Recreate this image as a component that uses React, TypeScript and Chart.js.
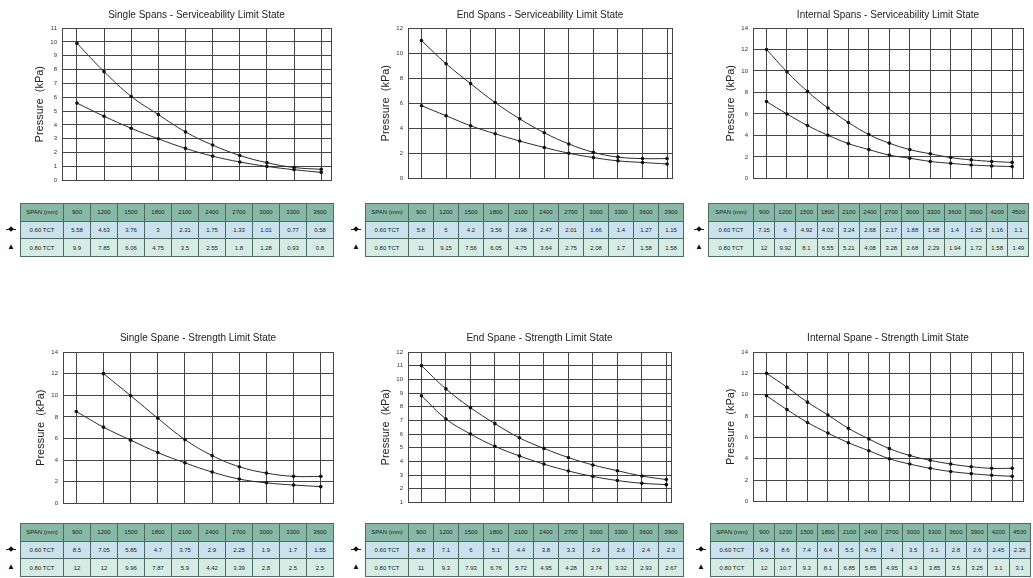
import React, { useEffect, useRef } from "react";
import { Chart, registerables } from "chart.js";

Chart.register(...registerables);

const FONT = "'Liberation Sans', Arial, Helvetica, sans-serif";
Chart.defaults.font.family = FONT;

// ---- Data ----
const spansShort = [900, 1200, 1500, 1800, 2100, 2400, 2700, 3000, 3300, 3600];
const spansMid = [900, 1200, 1500, 1800, 2100, 2400, 2700, 3000, 3300, 3600, 3900];
const spansLong = [900, 1200, 1500, 1800, 2100, 2400, 2700, 3000, 3300, 3600, 3900, 4200, 4500];

const rowLabels = ["0.60  TCT", "0.80  TCT"];
const spanHeader = "SPAN (mm)";
const yAxisLabel = "Pressure  (kPa)";

const singleServLow = [5.58, 4.63, 3.76, 3, 2.31, 1.75, 1.33, 1.01, 0.77, 0.58];
const singleServHigh = [9.9, 7.85, 6.06, 4.75, 3.5, 2.55, 1.8, 1.28, 0.93, 0.8];

const endServLow = [5.8, 5, 4.2, 3.56, 2.98, 2.47, 2.01, 1.66, 1.4, 1.27, 1.15];
const endServHigh = [11, 9.15, 7.56, 6.05, 4.75, 3.64, 2.75, 2.08, 1.7, 1.58, 1.58];

const intServLow = [7.15, 6, 4.92, 4.02, 3.24, 2.68, 2.17, 1.88, 1.58, 1.4, 1.25, 1.16, 1.1];
const intServHigh = [12, 9.92, 8.1, 6.55, 5.21, 4.08, 3.28, 2.68, 2.29, 1.94, 1.72, 1.58, 1.49];

const singleStrLow = [8.5, 7.05, 5.85, 4.7, 3.75, 2.9, 2.25, 1.9, 1.7, 1.55];
const singleStrHigh = [12, 12, 9.96, 7.87, 5.9, 4.42, 3.39, 2.8, 2.5, 2.5];

const endStrLow = [8.8, 7.1, 6, 5.1, 4.4, 3.8, 3.3, 2.9, 2.6, 2.4, 2.3];
const endStrHigh = [11, 9.3, 7.93, 6.76, 5.72, 4.95, 4.28, 3.74, 3.32, 2.93, 2.67];

const intStrLow = [9.9, 8.6, 7.4, 6.4, 5.5, 4.75, 4, 3.5, 3.1, 2.8, 2.6, 2.45, 2.35];
const intStrHigh = [12, 10.7, 9.3, 8.1, 6.85, 5.85, 4.95, 4.3, 3.85, 3.5, 3.25, 3.1, 3.1];

// ---- Layout / style ----
const AXIS_W = 62;
const TITLE_H = 28;
const GRID = "#454545";
const LINE = "#2a2a2a";

type Panel = {
  title: string;
  spans: number[];
  low: number[];
  high: number[];
  highSkip: number;
  yMin: number;
  yMax: number;
  yStep: number;
  plot: { l: number; t: number; r: number; b: number };
  pad: [number, number];
  titleTop: number;
  table: { left: number; top: number; first: number; cell: number; height: number };
};

const panels: Panel[] = [
  {
    title: "Single Spans - Serviceability Limit State",
    spans: spansShort, low: singleServLow, high: singleServHigh, highSkip: 0,
    yMin: 0, yMax: 11, yStep: 1,
    plot: { l: 62, t: 28, r: 333, b: 187 }, pad: [0.55, 0.36], titleTop: 9,
    table: { left: 20, top: 203, first: 43, cell: 27, height: 53 },
  },
  {
    title: "End Spans - Serviceability Limit State",
    spans: spansMid, low: endServLow, high: endServHigh, highSkip: 0,
    yMin: 0, yMax: 12, yStep: 2,
    plot: { l: 408, t: 28, r: 674, b: 185 }, pad: [0.55, 0.2], titleTop: 9,
    table: { left: 365, top: 203, first: 43, cell: 25, height: 53 },
  },
  {
    title: "Internal Spans - Serviceability Limit State",
    spans: spansLong, low: intServLow, high: intServHigh, highSkip: 0,
    yMin: 0, yMax: 14, yStep: 2,
    plot: { l: 753, t: 28, r: 1025, b: 185 }, pad: [0.66, 0.53], titleTop: 9,
    table: { left: 708, top: 203, first: 45, cell: 21.2, height: 53 },
  },
  {
    title: "Single Spane - Strength Limit State",
    spans: spansShort, low: singleStrLow, high: singleStrHigh, highSkip: 1,
    yMin: 0, yMax: 14, yStep: 2,
    plot: { l: 63, t: 352, r: 335, b: 510 }, pad: [0.49, 0.45], titleTop: 8,
    table: { left: 20, top: 523, first: 43, cell: 27, height: 53 },
  },
  {
    title: "End Spane - Strength Limit State",
    spans: spansMid, low: endStrLow, high: endStrHigh, highSkip: 0,
    yMin: 1, yMax: 12, yStep: 1,
    plot: { l: 408, t: 352, r: 673, b: 509 }, pad: [0.55, 0.19], titleTop: 8,
    table: { left: 365, top: 523, first: 43, cell: 25, height: 53 },
  },
  {
    title: "Internal Spane - Strength Limit State",
    spans: spansLong, low: intStrLow, high: intStrHigh, highSkip: 0,
    yMin: 0, yMax: 14, yStep: 2,
    plot: { l: 753, t: 352, r: 1025, b: 508 }, pad: [0.66, 0.53], titleTop: 8,
    table: { left: 710, top: 523, first: 43, cell: 21.3, height: 53 },
  },
];

function PanelChart({ p }: { p: Panel }) {
  const ref = useRef<HTMLCanvasElement>(null);
  const left = p.plot.l - AXIS_W;
  const top = p.plot.t - TITLE_H;
  const width = p.plot.r - left + 2;
  const height = p.plot.b - top + 2;

  useEffect(() => {
    if (!ref.current) return;
    const step = p.spans[1] - p.spans[0];
    const xmin = p.spans[0] - step * p.pad[0];
    const xmax = p.spans[p.spans.length - 1] + step * p.pad[1];
    const mk = (vals: number[], skip: number) =>
      p.spans.map((x, i) => ({ x, y: i < skip ? null : vals[i] }));
    const ds = (vals: number[], skip: number) => ({
      data: mk(vals, skip) as any,
      borderColor: LINE,
      backgroundColor: LINE,
      borderWidth: 1,
      pointRadius: 1.8,
      pointBorderWidth: 0,
      pointBackgroundColor: "#111",
      tension: 0.4,
    });
    const chart = new Chart(ref.current, {
      type: "line",
      data: { datasets: [ds(p.low, 0), ds(p.high, p.highSkip)] },
      options: {
        animation: false,
        responsive: true,
        maintainAspectRatio: false,
        layout: { padding: { left: 0, right: 2, top: 0, bottom: 2 } },
        plugins: {
          legend: { display: false },
          tooltip: { enabled: false },
          title: {
            display: true,
            text: p.title,
            fullSize: false,
            color: "#222",
            font: { family: FONT, size: 10, weight: "normal" },
            padding: { top: p.titleTop, bottom: TITLE_H - 12 - p.titleTop },
          },
        },
        scales: {
          x: {
            type: "linear",
            min: xmin,
            max: xmax,
            afterBuildTicks: (s: any) => {
              s.ticks = [xmin, ...p.spans, xmax].map((v) => ({ value: v }));
            },
            afterFit: (s: any) => {
              s.height = 0;
            },
            ticks: { display: false },
            grid: { color: GRID, lineWidth: 1, drawTicks: false },
            border: { color: GRID },
          },
          y: {
            min: p.yMin,
            max: p.yMax,
            afterFit: (s: any) => {
              s.width = AXIS_W;
            },
            ticks: { stepSize: p.yStep, color: "#333", padding: 5, font: { family: FONT, size: 6 } },
            grid: { color: GRID, lineWidth: 1, drawTicks: false },
            border: { color: GRID },
            title: {
              display: true,
              text: yAxisLabel,
              color: "#222",
              font: { family: FONT, size: 11 },
              padding: { top: 33, bottom: 0 },
            },
          },
        },
      },
    });
    return () => chart.destroy();
  }, []);

  return (
    <div style={{ position: "absolute", left, top, width, height }}>
      <canvas ref={ref} />
    </div>
  );
}

function PanelTable({ p }: { p: Panel }) {
  const t = p.table;
  const n = p.spans.length;
  const total = t.first + n * t.cell;
  const rowH = t.height / 3;
  const cellStyle: React.CSSProperties = {
    border: "1px solid #4f6a63",
    textAlign: "center",
    padding: 0,
    whiteSpace: "nowrap",
    overflow: "hidden",
  };
  const rows = [p.low, p.high];
  const bgs = ["#cae2ee", "#d5ece5"];
  return (
    <>
      <div style={{ position: "absolute", left: t.left - 16, top: t.top + rowH, width: 14 }}>
        <div style={{ height: rowH, position: "relative" }}>
          <div style={{ position: "absolute", left: 2, top: rowH / 2 - 0.5, width: 10, height: 1, background: "#222" }} />
          <div style={{ position: "absolute", left: 5, top: rowH / 2 - 2.5, width: 4, height: 4, background: "#111", transform: "rotate(45deg)" }} />
        </div>
        <div style={{ height: rowH, position: "relative", fontSize: 8, lineHeight: `${rowH}px`, textAlign: "center", color: "#111", fontFamily: FONT }}>
          ▲
        </div>
      </div>
      <table
        style={{
          position: "absolute",
          left: t.left,
          top: t.top,
          width: total,
          height: t.height,
          borderCollapse: "collapse",
          tableLayout: "fixed",
          fontFamily: FONT,
          fontSize: 6,
          color: "#222",
          border: "1px solid #3f5a53",
        }}
      >
        <colgroup>
          <col style={{ width: t.first }} />
          {p.spans.map((s) => (
            <col key={s} style={{ width: t.cell }} />
          ))}
        </colgroup>
        <tbody>
          <tr style={{ height: rowH, background: "#88b8a6" }}>
            <td style={cellStyle}>{spanHeader}</td>
            {p.spans.map((s) => (
              <td key={s} style={cellStyle}>{s}</td>
            ))}
          </tr>
          {rows.map((vals, ri) => (
            <tr key={ri} style={{ height: rowH, background: bgs[ri] }}>
              <td style={cellStyle}>{rowLabels[ri]}</td>
              {vals.map((v, i) => (
                <td key={i} style={cellStyle}>{v}</td>
              ))}
            </tr>
          ))}
        </tbody>
      </table>
    </>
  );
}

export default function App() {
  return (
    <div
      style={{
        position: "absolute",
        left: 0,
        top: 0,
        width: 1033,
        height: 578,
        background: "#fff",
        overflow: "hidden",
        fontFamily: FONT,
      }}
    >
      {panels.map((p, i) => (
        <React.Fragment key={i}>
          <PanelChart p={p} />
          <PanelTable p={p} />
        </React.Fragment>
      ))}
    </div>
  );
}
